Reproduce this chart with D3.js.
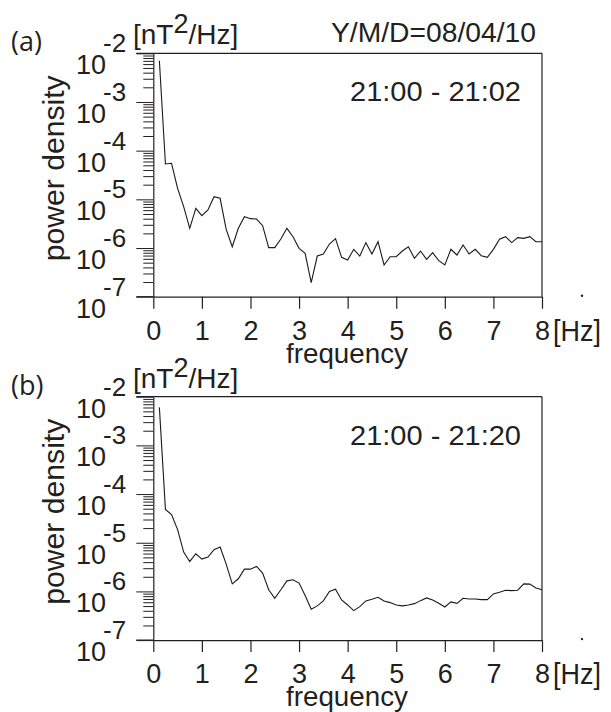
<!DOCTYPE html>
<html>
<head>
<meta charset="utf-8">
<script src="https://cdn.jsdelivr.net/npm/d3@7/dist/d3.min.js"></script>
<style>
  html, body { margin: 0; padding: 0; background: #fff; }
  svg { display: block; }
  text { fill: #231f20; }
</style>
</head>
<body>
<svg id="chart" width="611" height="712"></svg>
<script>
// ---------------- DATA ----------------
const freqs = [0.125,0.25,0.375,0.5,0.625,0.75,0.875,1.0,1.125,1.25,1.375,1.5,1.625,1.75,1.875,2.0,
  2.125,2.25,2.375,2.5,2.625,2.75,2.875,3.0,3.125,3.25,3.375,3.5,3.625,3.75,3.875,4.0,
  4.125,4.25,4.375,4.5,4.625,4.75,4.875,5.0,5.125,5.25,5.375,5.5,5.625,5.75,5.875,6.0,
  6.125,6.25,6.375,6.5,6.625,6.75,6.875,7.0,7.125,7.25,7.375,7.5,7.625,7.75,7.875,8.0];

const powerA = [7.06e-3,5.32e-5,5.50e-5,1.68e-5,7.06e-6,2.54e-6,6.53e-6,4.61e-6,6.04e-6,1.135e-5,1.05e-5,2.42e-6,1.06e-6,2.54e-6,4.41e-6,4.01e-6,
  3.94e-6,2.88e-6,1.02e-6,1.02e-6,1.53e-6,2.54e-6,1.71e-6,9.84e-7,7.76e-7,1.94e-7,6.85e-7,7.53e-7,1.21e-6,1.56e-6,6.43e-7,5.66e-7,
  9.40e-7,6.85e-7,1.29e-6,7.53e-7,1.35e-6,4.48e-7,6.64e-7,6.64e-7,8.67e-7,1.06e-6,6.14e-7,8.67e-7,5.85e-7,8.02e-7,5.50e-7,4.48e-7,
  9.40e-7,7.18e-7,1.15e-6,7.53e-7,9.40e-7,6.95e-7,6.43e-7,9.40e-7,1.51e-6,1.71e-6,1.29e-6,1.63e-6,1.58e-6,1.71e-6,1.35e-6,1.35e-6];

const powerB = [6.03e-3,4.81e-5,3.79e-5,1.86e-5,6.44e-6,4.13e-6,5.94e-6,4.61e-6,5.08e-6,7.19e-6,8.17e-6,3.64e-6,1.43e-6,1.82e-6,2.87e-6,2.87e-6,
  3.26e-6,2.38e-6,1.08e-6,7.24e-7,1.08e-6,1.65e-6,1.73e-6,1.48e-6,8.22e-7,4.30e-7,5.04e-7,6.38e-7,9.93e-7,1.11e-6,6.68e-7,5.27e-7,
  4.03e-7,4.88e-7,6.38e-7,6.90e-7,7.59e-7,6.38e-7,5.89e-7,5.27e-7,5.04e-7,5.27e-7,5.61e-7,6.47e-7,7.35e-7,6.68e-7,5.70e-7,4.79e-7,
  6.08e-7,5.70e-7,7.24e-7,7.01e-7,7.01e-7,6.79e-7,6.79e-7,8.89e-7,9.62e-7,1.06e-6,1.04e-6,1.06e-6,1.43e-6,1.41e-6,1.18e-6,1.08e-6];

const xTicks = [0,1,2,3,4,5,6,7,8];
const yExponents = [-7,-6,-5,-4,-3,-2];
const panelLabels = ["(a)", "(b)"];
const timeRanges = ["21:00 - 21:02", "21:00 - 21:20"];
const dateLabel = "Y/M/D=08/04/10";

// ---------------- DRAW ----------------
const svg = d3.select("#chart");
const SANS = "'Liberation Sans', Arial, Helvetica, sans-serif";
const HUM = "'Open Sans', 'Noto Sans', sans-serif";
const INK = "#231f20";

const left = 153.3, right = 542, plotH = 243.4;
const panelTops = [53.3, 396.7];
const panels = [
  { top: panelTops[0], data: powerA, label: panelLabels[0], range: timeRanges[0], date: true },
  { top: panelTops[1], data: powerB, label: panelLabels[1], range: timeRanges[1], date: false }
];

const x = d3.scaleLinear().domain([0, 8]).range([left, right]);

// minor + major tick values for log axis
const yTickVals = [];
yExponents.forEach(e => {
  yTickVals.push(Math.pow(10, e));
  if (e < -2) for (let m = 2; m <= 9; m++) yTickVals.push(m * Math.pow(10, e));
});

panels.forEach(p => {
  const top = p.top, bottom = top + plotH;
  const y = d3.scaleLog().domain([1e-7, 1e-2]).range([bottom, top]);
  const g = svg.append("g");

  // y axis (ticks outside, left)
  const yAx = g.append("g")
    .attr("transform", `translate(${left},0)`)
    .call(d3.axisLeft(y).tickValues(yTickVals).tickFormat("").tickSizeOuter(0));
  yAx.select(".domain").attr("stroke", INK).attr("stroke-width", 1.2);
  yAx.selectAll(".tick line")
    .attr("stroke", INK).attr("stroke-width", 1)
    .attr("x2", d => {
      const e = Math.log10(d);
      return Math.abs(e - Math.round(e)) < 1e-9 ? -17 : -10;
    });

  // x axis (ticks down)
  const xAx = g.append("g")
    .attr("transform", `translate(0,${bottom})`)
    .call(d3.axisBottom(x).tickValues(xTicks).tickSize(12).tickSizeOuter(0).tickPadding(5)
      .tickFormat(d3.format("d")));
  xAx.select(".domain").attr("stroke", INK).attr("stroke-width", 1.2);
  xAx.selectAll(".tick line").attr("stroke", INK).attr("stroke-width", 1.2);
  xAx.selectAll(".tick text")
    .attr("font-family", SANS).attr("font-size", 27).attr("fill", INK)
    .attr("y", 43).attr("dy", 0);

  // box: top border (extends over tick area), left extension of bottom axis, right border
  g.append("line").attr("x1", left - 17).attr("x2", right).attr("y1", top).attr("y2", top)
    .attr("stroke", INK).attr("stroke-width", 1.2);
  g.append("line").attr("x1", left - 17).attr("x2", left).attr("y1", bottom).attr("y2", bottom)
    .attr("stroke", INK).attr("stroke-width", 1.2);
  g.append("line").attr("x1", right).attr("x2", right).attr("y1", top).attr("y2", bottom)
    .attr("stroke", INK).attr("stroke-width", 1.2);

  // y tick labels 10^n
  yExponents.forEach(e => {
    const yy = y(Math.pow(10, e));
    g.append("text").attr("x", 106).attr("y", yy + 21)
      .attr("text-anchor", "end").attr("font-family", SANS).attr("font-size", 27)
      .text("10");
    g.append("text").attr("x", 103).attr("y", yy - 1)
      .attr("font-family", SANS).attr("font-size", 26)
      .text("-" + Math.abs(e));
  });

  // data line
  const line = d3.line().x((d, i) => x(freqs[i])).y(d => y(d));
  g.append("path").datum(p.data).attr("d", line)
    .attr("fill", "none").attr("stroke", "#1a1a1a").attr("stroke-width", 1.1)
    .attr("stroke-linejoin", "miter");

  // panel label
  g.append("text").attr("x", 11).attr("y", top - 2)
    .attr("font-family", HUM).attr("font-size", 27).text(p.label);

  // unit
  const u = g.append("text").attr("x", 133).attr("y", top - 9)
    .attr("font-family", SANS).attr("font-size", 28);
  u.append("tspan").text("[nT");
  u.append("tspan").attr("font-size", 27).attr("dy", -11).text("2");
  u.append("tspan").attr("dy", 11).text("/Hz]");

  if (p.date) {
    g.append("text").attr("x", 536).attr("y", top - 11).attr("text-anchor", "end")
      .attr("font-family", SANS).attr("font-size", 28)
      .attr("textLength", 205).attr("lengthAdjust", "spacingAndGlyphs").text(dateLabel);
  }

  // time range
  g.append("text").attr("x", 350).attr("y", top + 48)
    .attr("font-family", SANS).attr("font-size", 28)
    .attr("textLength", 171).attr("lengthAdjust", "spacingAndGlyphs").text(p.range);

  // y axis title
  g.append("text")
    .attr("transform", `translate(64,${top + 115}) rotate(-90)`)
    .attr("x", -93).attr("font-family", SANS).attr("font-size", 29)
    .attr("textLength", 186).attr("lengthAdjust", "spacingAndGlyphs")
    .text("power density");

  // x unit and title
  g.append("text").attr("x", 553).attr("y", bottom + 44)
    .attr("font-family", SANS).attr("font-size", 29)
    .attr("textLength", 48).attr("lengthAdjust", "spacingAndGlyphs").text("[Hz]");
  g.append("text").attr("x", 286).attr("y", bottom + 66)
    .attr("font-family", SANS).attr("font-size", 28)
    .attr("textLength", 122).attr("lengthAdjust", "spacingAndGlyphs")
    .text("frequency");

  // small dot at right
  g.append("circle").attr("cx", 582).attr("cy", bottom - 1).attr("r", 1.2).attr("fill", INK);
});
</script>
</body>
</html>
